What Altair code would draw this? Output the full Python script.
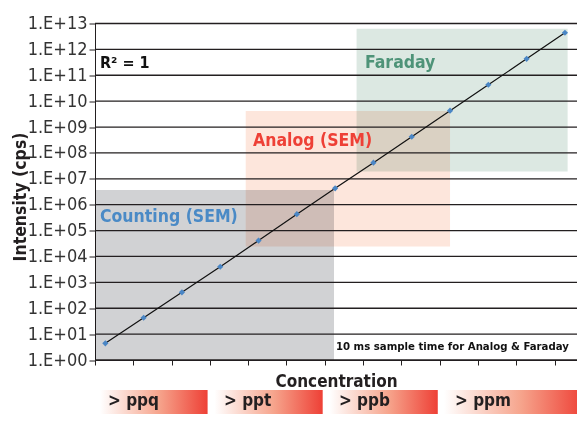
import altair as alt
import pandas as pd

# ---- data ----
standard_index = list(range(1, 14))
intensity = [4.4, 43, 410, 4.0e3, 4.1e4, 4.3e5, 4.3e6, 4.2e7, 4.2e8, 4.3e9, 4.3e10, 4.3e11, 4.4e12]
decades = [10 ** k for k in range(14)]

region_names = ["Counting (SEM)", "Analog (SEM)", "Faraday"]
region_x0 = [0.73, 4.665, 7.56]
region_x1 = [6.97, 10.0, 13.07]
region_ylo = [1, 2.4e4, 1.9e7]
region_yhi = [3.7e6, 4.2e9, 6.2e12]
region_fill = ["#d1d2d4", "#fde6dc", "#dce8e2"]
region_label_color = ["#4a8ac6", "#ee4036", "#4e9378"]
region_label_x = [0.86, 4.855, 7.78]
region_label_y = [3.4e5, 2.9e8, 3.0e11]

conc_labels = ["> ppq", "> ppt", "> ppb", "> ppm"]
conc_x0 = [0.86, 3.845, 6.85, 9.84]
conc_x1 = [3.67, 6.675, 9.68, 13.5]
conc_label_x = [1.07, 4.098, 7.1, 10.13]

FONT = "DejaVu Sans Condensed, Liberation Sans Narrow, sans-serif"

pts = pd.DataFrame({"x": standard_index, "v": intensity})
regions = pd.DataFrame({"name": region_names, "x0": region_x0, "x1": region_x1,
                        "ylo": region_ylo, "yhi": region_yhi, "fill": region_fill,
                        "lc": region_label_color, "lx": region_label_x, "ly": region_label_y})
grid = pd.DataFrame({"v": decades})
conc = pd.DataFrame({"lab": conc_labels, "x0": conc_x0, "x1": conc_x1, "lx": conc_label_x})

xscale = alt.Scale(domain=[0.73, 13.315], nice=False, zero=False)
yscale = alt.Scale(type="log", domain=[1, 1e13], nice=False)

label_expr = "'1.E+' + (round(log(datum.value)/LN10) < 10 ? '0' : '') + round(log(datum.value)/LN10)"

xaxis = alt.Axis(values=[0.73 + k for k in range(13)], labels=False, ticks=True, tickSize=5,
                 tickColor="#231f20", domainColor="#231f20", grid=False,
                 title="Concentration", titleFont=FONT, titleFontSize=17, titleFontWeight="bold",
                 titleColor="#231f20", titlePadding=8)
yaxis = alt.Axis(values=decades, labelExpr=label_expr, grid=False, tickSize=6,
                 tickColor="#231f20", domainColor="#231f20",
                 labelFont=FONT, labelFontSize=18, labelColor="#333333", labelPadding=2,
                 title="Intensity (cps)", titleFont=FONT, titleFontSize=17.5, titleFontWeight="bold",
                 titleColor="#231f20", titleX=-75, titleY=173, titleBaseline="middle")

rects = alt.Chart(regions).mark_rect(blend="multiply").encode(
    x=alt.X("x0:Q", scale=xscale, axis=xaxis),
    x2="x1:Q",
    y=alt.Y("ylo:Q", scale=yscale, axis=yaxis),
    y2="yhi:Q",
    color=alt.Color("fill:N", scale=None),
)

rules = alt.Chart(grid).mark_rule(color="#231f20", strokeWidth=1.3).encode(
    y=alt.Y("v:Q", scale=yscale)
)

line = alt.Chart(pts).mark_line(color="#111111", strokeWidth=1.2).encode(
    x=alt.X("x:Q", scale=xscale), y=alt.Y("v:Q", scale=yscale)
)

points = alt.Chart(pts).mark_point(shape="diamond", filled=True, color="#4a86c5", size=38, opacity=1).encode(
    x=alt.X("x:Q", scale=xscale), y=alt.Y("v:Q", scale=yscale)
)

region_text = alt.Chart(regions).mark_text(align="left", baseline="middle", font=FONT,
                                           fontSize=17.5, fontWeight="bold").encode(
    x=alt.X("lx:Q", scale=xscale), y=alt.Y("ly:Q", scale=yscale),
    text="name:N", color=alt.Color("lc:N", scale=None)
)

r2 = alt.Chart(pd.DataFrame({"t": ["R\u00b2 = 1"], "x": [0.86], "v": [3.0e11]})).mark_text(
    align="left", baseline="middle", font=FONT, fontSize=16, fontWeight="bold", color="#111111"
).encode(x=alt.X("x:Q", scale=xscale), y=alt.Y("v:Q", scale=yscale), text="t:N")

note = alt.Chart(pd.DataFrame({"t": ["10 ms sample time for Analog & Faraday"], "x": [7.02], "v": [3.2]})).mark_text(
    align="left", baseline="middle", font=FONT, fontSize=11.3, fontWeight="bold", color="#111111"
).encode(x=alt.X("x:Q", scale=xscale), y=alt.Y("v:Q", scale=yscale), text="t:N")

grad = alt.LinearGradient(gradient="linear", x1=0, x2=1, y1=0, y2=0,
                          stops=[alt.GradientStop(color="#ffffff", offset=0),
                                 alt.GradientStop(color="#f6a48c", offset=0.55),
                                 alt.GradientStop(color="#ee4036", offset=1)])

conc_bars = alt.Chart(conc).mark_rect(color=grad).encode(
    x=alt.X("x0:Q", scale=xscale), x2="x1:Q",
    y=alt.value(366.5), y2=alt.value(392)
)
conc_text = alt.Chart(conc).mark_text(align="left", baseline="middle", font=FONT, fontSize=17,
                                      fontWeight="bold", color="#231f20").encode(
    x=alt.X("lx:Q", scale=xscale), y=alt.value(377.5), text="lab:N"
)

chart = alt.layer(rects, rules, line, points, region_text, r2, note, conc_bars, conc_text).properties(
    width=482, height=336.5,
    autosize=alt.AutoSizeParams(type="none"),
    padding={"left": 87, "top": 15.5, "right": 0, "bottom": 54},
).configure_view(stroke=None)

chart.save("out.html", embed_options={"renderer": "svg", "actions": False})
